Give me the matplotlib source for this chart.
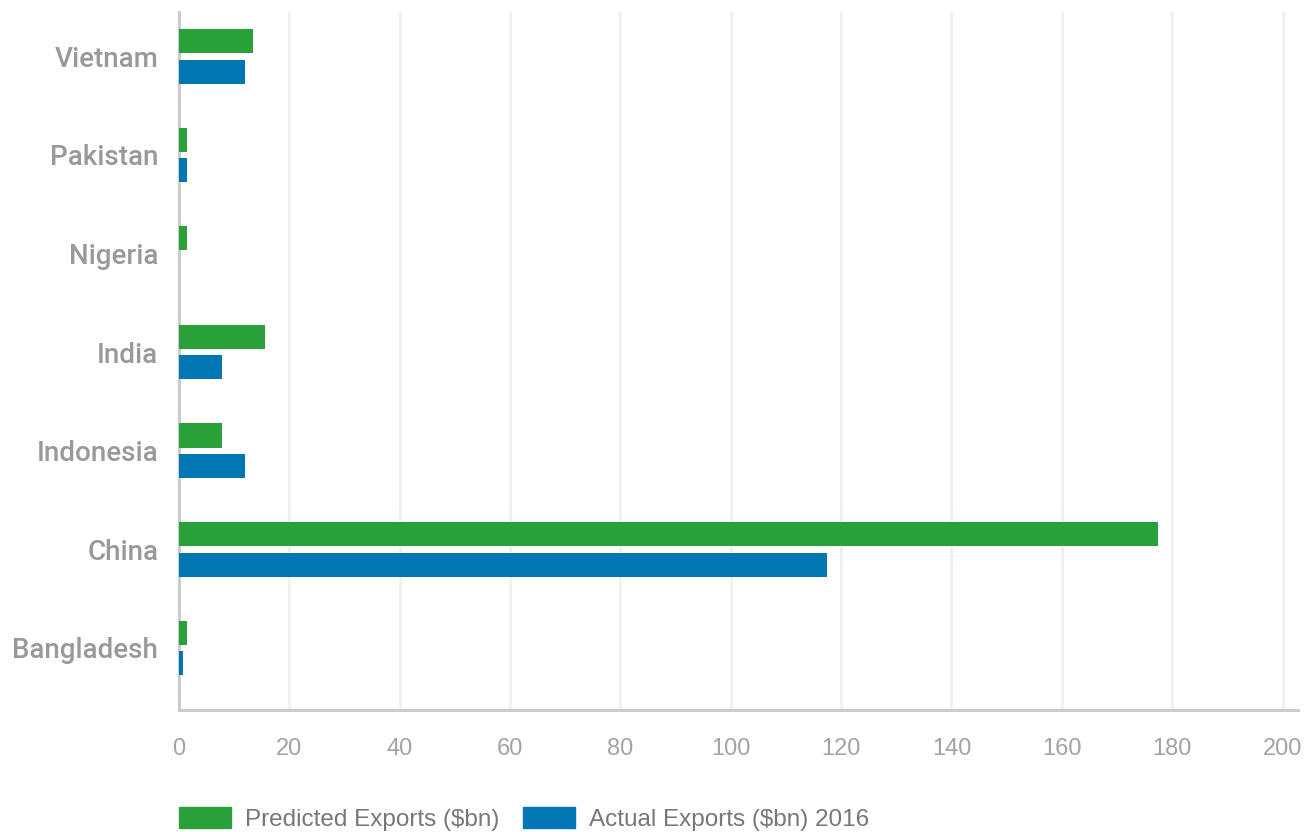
import matplotlib
matplotlib.use('Agg')
import matplotlib.pyplot as plt
from matplotlib.patches import Patch
import numpy as np

countries = ['Vietnam', 'Pakistan', 'Nigeria', 'India', 'Indonesia', 'China', 'Bangladesh']
predicted = [13.4, 1.5, 1.5, 15.6, 7.8, 177.5, 1.5]
actual = [12.0, 1.5, 0.0, 7.8, 12.0, 117.5, 0.8]
xticks = [0, 20, 40, 60, 80, 100, 120, 140, 160, 180, 200]

green = '#29a039'
blue = '#0077b3'

plt.rcParams['font.family'] = ['Liberation Sans', 'DejaVu Sans']

fig = plt.figure(figsize=(13.13, 8.32), dpi=100)
ax = fig.add_axes([179/1313, 1 - 710/832, (1298 - 179)/1313, (710 - 12)/832])

y = np.arange(len(countries))
h = 0.245
off = 0.155
ax.barh(y - off, predicted, height=h, color=green, zorder=3)
ax.barh(y + off, actual, height=h, color=blue, zorder=3)

ax.set_ylim(6.63, -0.45)
ax.set_xlim(0, 202.8)
ax.set_yticks(y)
ax.set_yticklabels(countries, fontsize=20, color='#999999',
                   family=['Roboto', 'Liberation Sans'], weight='medium')
ax.set_xticks(xticks)
ax.set_xticklabels([str(t) for t in xticks], fontsize=17, color='#a3a3a3')
ax.tick_params(axis='both', length=0)
ax.tick_params(axis='y', pad=15)
ax.tick_params(axis='x', pad=20)

for t in xticks[1:]:
    ax.axvline(t, color='#f0f0f0', lw=2, zorder=1)

for s in ['top', 'right']:
    ax.spines[s].set_visible(False)
for s in ['left', 'bottom']:
    ax.spines[s].set_color('#cccccc')
    ax.spines[s].set_linewidth(2.2)

handles = [Patch(color=green, label='Predicted Exports ($bn)'),
           Patch(color=blue, label='Actual Exports ($bn) 2016')]
leg = fig.legend(handles=handles, loc='lower left', bbox_to_anchor=(157/1313, -0.025),
                 ncol=2, frameon=False, fontsize=17.5, handlelength=2.14, handleheight=0.9,
                 handletextpad=0.58, columnspacing=0.98)
for txt in leg.get_texts():
    txt.set_color('#777777')

fig.savefig('out.png', dpi=100)
